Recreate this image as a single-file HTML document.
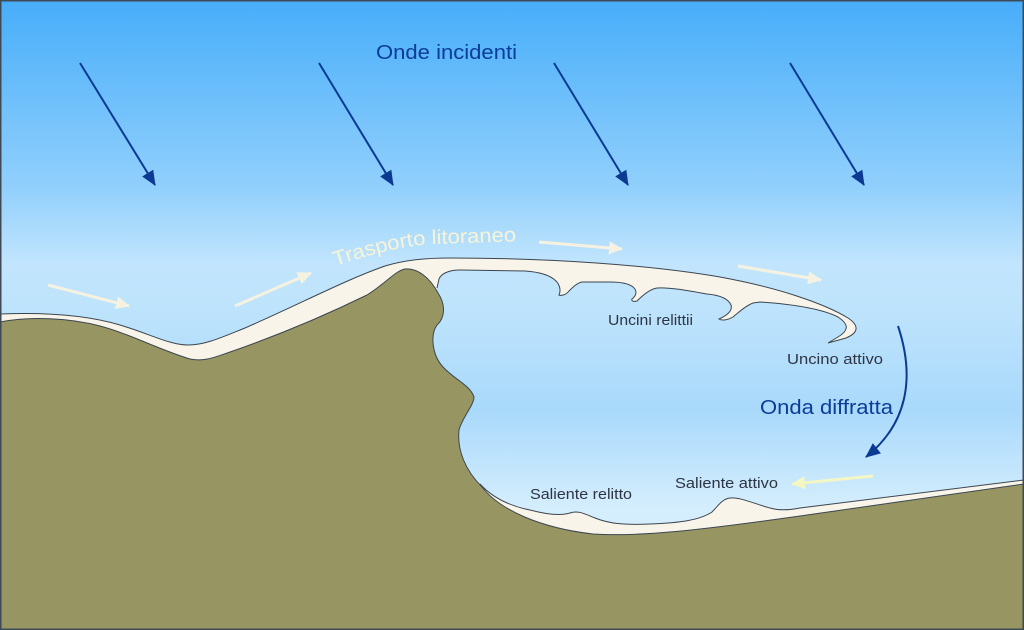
<!DOCTYPE html>
<html><head><meta charset="utf-8"><style>
html,body{margin:0;padding:0;background:#fff;}
svg{display:block;}
text{font-family:"Liberation Sans",sans-serif;}
</style></head><body>
<svg width="1024" height="630" viewBox="0 0 1024 630" xmlns="http://www.w3.org/2000/svg">
<defs>
<linearGradient id="sky" x1="0" y1="0" x2="0" y2="630" gradientUnits="userSpaceOnUse">
<stop offset="0" stop-color="#48adfa"/>
<stop offset="0.05" stop-color="#53b3fa"/>
<stop offset="0.3" stop-color="#92d0fc"/>
<stop offset="0.42" stop-color="#c2e5fd"/>
<stop offset="0.5" stop-color="#bde3fc"/>
<stop offset="0.65" stop-color="#a9d9fb"/>
<stop offset="0.81" stop-color="#d5eefd"/>
<stop offset="1" stop-color="#d8effd"/>
</linearGradient>
<marker id="hb" markerUnits="userSpaceOnUse" markerWidth="16" markerHeight="14" refX="14" refY="6.5" orient="auto">
<path d="M0,0 L15,6.5 L0,13 z" fill="#0b3a93"/>
</marker>
<marker id="hw" markerUnits="userSpaceOnUse" markerWidth="16" markerHeight="14" refX="13" refY="6.5" orient="auto">
<path d="M0,0 L14,6.5 L0,13 z" fill="#f6f2e2"/>
</marker>
<marker id="hy" markerUnits="userSpaceOnUse" markerWidth="16" markerHeight="14" refX="13" refY="6.5" orient="auto">
<path d="M0,0 L14,6.5 L0,13 z" fill="#f4f6c4"/>
</marker>
</defs>
<rect x="0" y="0" width="1024" height="630" fill="url(#sky)"/>

<!-- spit sand fill -->
<path fill="#f8f4ea" d="M0,314 C50,312 90,316 120,325 C150,334 170,345 188,345 C205,345 220,338 245,328 C300,304 345,280 385,266 C405,260 425,258 450,258 C550,258 650,265 720,277 C780,288 825,304 848,318 C860,326 858,333 846,338 L828,343 L838,337 C848,331 850,325 838,317 C820,308 790,304 760,302 L753,303 C745,306 738,313 733,317 C728,320 722,321 719,319 C726,316 733,311 731,305 C728,298 718,295 707,294 C690,291 670,287 657,288 C650,289 642,296 637,301 C634,302 631,301 632,299 C636,296 638,291 633,287 C628,283 620,282 610,282 L582,282 C577,283 573,287 569,291 C566,295 561,296 559,295 C561,291 560,285 556,281 C550,275 540,272 525,271 L460,270 C448,270 441,274 439,279 L437,288 L430,300 L300,340 L190,368 L0,335 Z"/>
<path fill="none" stroke="#3c4650" stroke-width="1" d="M0,314 C50,312 90,316 120,325 C150,334 170,345 188,345 C205,345 220,338 245,328 C300,304 345,280 385,266 C405,260 425,258 450,258 C550,258 650,265 720,277 C780,288 825,304 848,318 C860,326 858,333 846,338 L828,343 L838,337 C848,331 850,325 838,317 C820,308 790,304 760,302 L753,303 C745,306 738,313 733,317 C728,320 722,321 719,319 C726,316 733,311 731,305 C728,298 718,295 707,294 C690,291 670,287 657,288 C650,289 642,296 637,301 C634,302 631,301 632,299 C636,296 638,291 633,287 C628,283 620,282 610,282 L582,282 C577,283 573,287 569,291 C566,295 561,296 559,295 C561,291 560,285 556,281 C550,275 540,272 525,271 L460,270 C448,270 441,274 439,279 L437,288"/>

<!-- bay sand -->
<path fill="#f8f4ea" d="M480,484 C490,495 505,505 530,510 C545,514 560,516 570,513 C578,510 585,514 595,518 C610,524 625,525 650,524 C680,523 700,520 712,512 C718,506 722,499 730,498 C740,497 755,504 770,508 C780,511 790,510 800,508 L1024,480 L1030,560 L470,560 Z"/>
<path fill="none" stroke="#3c4650" stroke-width="1" d="M480,484 C490,495 505,505 530,510 C545,514 560,516 570,513 C578,510 585,514 595,518 C610,524 625,525 650,524 C680,523 700,520 712,512 C718,506 722,499 730,498 C740,497 755,504 770,508 C780,511 790,510 800,508 L1024,480"/>

<!-- land -->
<path fill="#979562" stroke="#3c4650" stroke-width="1" d="M0,322 C30,316 70,318 100,326 C130,334 160,350 190,359 C205,362 215,357 233,351 C270,338 320,318 367,295 C385,284 395,271 405,269 C418,268 430,278 438,293 C446,305 445,318 437,325 C430,335 432,355 443,367 C455,380 470,385 474,397 C474,405 462,418 459,430 C457,450 465,470 482,487 C500,510 540,528 593,534 C640,537 700,530 793,517 L1024,484 L1024,630 L0,630 Z"/>

<!-- incident wave arrows -->
<g stroke="#0b3a93" stroke-width="2" fill="none" marker-end="url(#hb)">
<line x1="80" y1="63" x2="155" y2="185"/>
<line x1="319" y1="63" x2="393" y2="185"/>
<line x1="554" y1="63" x2="628" y2="185"/>
<line x1="790" y1="63" x2="864" y2="185"/>
</g>

<!-- diffracted wave arrow -->
<path d="M898,326 C916,380 906,425 866,457" stroke="#0b3a93" stroke-width="2" fill="none" marker-end="url(#hb)"/>

<!-- littoral transport arrows -->
<g stroke="#f6f2e2" stroke-width="3" fill="none" marker-end="url(#hw)">
<line x1="48" y1="285" x2="129" y2="306"/>
<line x1="235" y1="306" x2="311" y2="273"/>
<line x1="539" y1="242" x2="622" y2="249"/>
<line x1="738" y1="266" x2="821" y2="280"/>
</g>
<line x1="873" y1="476" x2="792" y2="484" stroke="#f4f6c4" stroke-width="3" marker-end="url(#hy)"/>

<!-- labels -->
<text x="376" y="59" font-size="20" fill="#0b3c98" textLength="141" lengthAdjust="spacingAndGlyphs">Onde incidenti</text>
<text x="760" y="414" font-size="20" fill="#0b3c98" textLength="133" lengthAdjust="spacingAndGlyphs">Onda diffratta</text>
<path id="tp" d="M335,266 Q395,246 432,244 L530,241" fill="none"/>
<text font-size="20" fill="#f7f4d8"><textPath href="#tp" textLength="184" lengthAdjust="spacingAndGlyphs">Trasporto litoraneo</textPath></text>
<g fill="#2d3544" font-size="15">
<text x="608" y="325" textLength="85" lengthAdjust="spacingAndGlyphs">Uncini relittii</text>
<text x="787" y="364" textLength="96" lengthAdjust="spacingAndGlyphs">Uncino attivo</text>
<text x="530" y="499" textLength="102" lengthAdjust="spacingAndGlyphs">Saliente relitto</text>
<text x="675" y="488" textLength="103" lengthAdjust="spacingAndGlyphs">Saliente attivo</text>
</g>

<rect x="0.75" y="0.75" width="1022.5" height="628.5" fill="none" stroke="#3e4a55" stroke-width="1.5"/>
</svg>
</body></html>
